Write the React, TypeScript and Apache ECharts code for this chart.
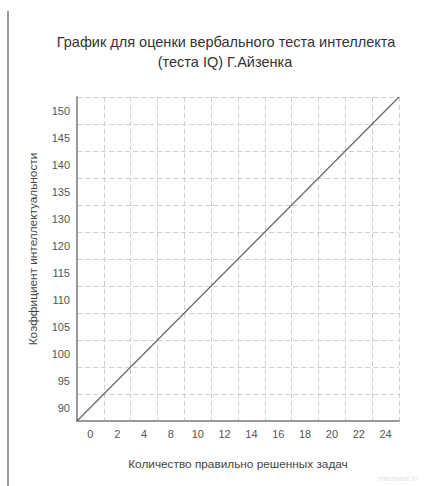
import React, { useEffect, useRef } from "react";
import * as echarts from "echarts";

const titleLines = ["График для оценки вербального теста интеллекта", "(теста IQ) Г.Айзенка"];
const xName = "Количество правильно решенных задач";
const yName = "Коэффициент интеллектуальности";
// tick labels as printed in the reference (12 cells per axis)
const xTickLabels = ["0", "2", "4", "8", "10", "12", "14", "16", "18", "20", "22", "24"];
const yTickLabels = ["90", "95", "100", "105", "110", "115", "120", "130", "135", "140", "145", "150"];
// conversion line: IQ = 90 + 2.5 * score, drawn across the plot
const lineScores = [-1, 25];
const lineIQ = [87.5, 152.5];

export default function App() {
  const ref = useRef<HTMLDivElement>(null);
  useEffect(() => {
    if (!ref.current) return;
    const chart = echarts.init(ref.current, undefined, { renderer: "svg" });
    const font = "Liberation Sans, Arial, sans-serif";
    chart.setOption({
      animation: false,
      backgroundColor: "#ffffff",
      grid: { left: 77, right: 26, top: 97, bottom: 65, containLabel: false },
      xAxis: [
        {
          type: "category",
          data: xTickLabels,
          boundaryGap: true,
          axisLine: { show: true, onZero: false, lineStyle: { color: "#9a9a9a", width: 2 } },
          axisTick: { show: false },
          axisLabel: { color: "#555", fontSize: 11, fontFamily: font, margin: 7 },
          splitLine: { show: true, lineStyle: { color: "#cfcfcf", type: [5, 3], width: 1 } },
        },
        {
          type: "value",
          min: lineScores[0],
          max: lineScores[1],
          show: false,
          axisLine: { show: false, onZero: false },
          splitLine: { show: false },
        },
      ],
      yAxis: [
        {
          type: "category",
          data: yTickLabels,
          boundaryGap: true,
          axisLine: { show: true, onZero: false, lineStyle: { color: "#9a9a9a", width: 2 } },
          axisTick: { show: false },
          axisLabel: { color: "#555", fontSize: 11, fontFamily: font, margin: 7 },
          splitLine: { show: true, lineStyle: { color: "#cfcfcf", type: [5, 3], width: 1 } },
        },
        {
          type: "value",
          min: lineIQ[0],
          max: lineIQ[1],
          show: false,
          axisLine: { show: false, onZero: false },
          splitLine: { show: false },
        },
      ],
      series: [
        {
          type: "line",
          xAxisIndex: 1,
          yAxisIndex: 1,
          data: lineScores.map((s, i) => [s, lineIQ[i]]),
          showSymbol: false,
          symbol: "none",
          lineStyle: { color: "#666", width: 1.2 },
          silent: true,
        },
      ],
      graphic: [
        {
          type: "line",
          shape: { x1: 8, y1: 11, x2: 8, y2: 486 },
          style: { stroke: "#9a9a9a", lineWidth: 2 },
        },
        {
          type: "text",
          x: 226,
          y: 42,
          style: {
            text: titleLines[0],
            fill: "#333",
            fontSize: 14.5,
            fontFamily: font,
            textAlign: "center",
            textVerticalAlign: "middle",
          },
        },
        {
          type: "text",
          x: 225,
          y: 62,
          style: {
            text: titleLines[1],
            fill: "#333",
            fontSize: 14.5,
            fontFamily: font,
            textAlign: "center",
            textVerticalAlign: "middle",
          },
        },
        {
          type: "text",
          x: 238,
          y: 464,
          style: {
            text: xName,
            fill: "#444",
            fontSize: 11.8,
            fontFamily: font,
            textAlign: "center",
            textVerticalAlign: "middle",
          },
        },
        {
          type: "text",
          x: 33,
          y: 249,
          rotation: Math.PI / 2,
          style: {
            text: yName,
            fill: "#444",
            fontSize: 11.8,
            fontFamily: font,
            textAlign: "center",
            textVerticalAlign: "middle",
          },
        },
        {
          type: "text",
          x: 418,
          y: 478,
          style: {
            text: "medwed.ru",
            fill: "#e2e2e2",
            fontSize: 8,
            fontFamily: font,
            textAlign: "right",
            textVerticalAlign: "middle",
          },
        },
      ],
    });
    return () => chart.dispose();
  }, []);
  return (
    <div
      ref={ref}
      style={{ position: "fixed", left: 0, top: 0, width: 425, height: 486 }}
    />
  );
}
